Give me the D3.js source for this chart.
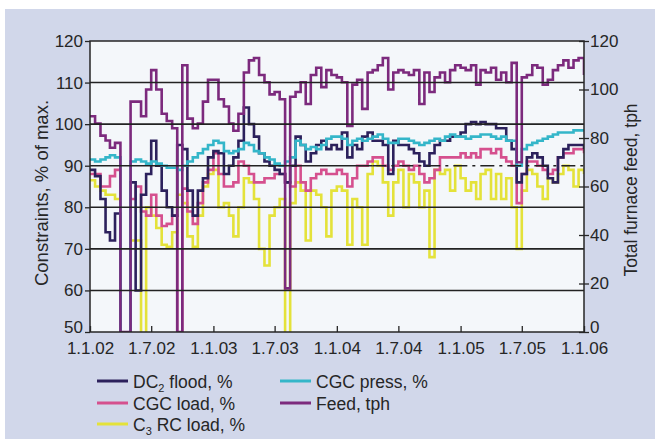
<!DOCTYPE html>
<head>
    <meta charset="utf-8">
    <script src="https://d3js.org/d3.v7.min.js"></script>
    <style>
        html, body { margin: 0; padding: 0; background: #fff; }
        svg { display: block; font-family: "Liberation Sans", Arial, sans-serif; }
        .axis text { font-size: 17px; fill: #262626; }
        .axis line { stroke: #262626; stroke-width: 1.3; }
        .axis path { display: none; }
        .series { fill: none; stroke-width: 2.6; }
    </style>
</head>
<body>
<svg width="655" height="439"></svg>
<script>
    // semi-monthly samples: 1st and 16th of every month, 1.1.02 .. 1.1.06
    var dates = [];
    for (var yr = 2002; yr < 2006; yr++) {
        for (var mo = 0; mo < 12; mo++) {
            dates.push(new Date(yr, mo, 1));
            dates.push(new Date(yr, mo, 16));
        }
    }
    dates.push(new Date(2006, 0, 1));

    // left axis, % of max.
    var dc2Flood = [
        89, 87.5, 82, 74, 72, 78.5, 0, 0, 86, 60, 83, 88, 96, 90, 84, 80, 78, 95, 94, 84, 78, 84, 87, 92, 93.5,
        93, 88, 90, 92, 96, 104, 100, 97, 93, 91, 90, 89, 88, 86, 90, 97, 95, 91, 93, 95, 96, 94, 95, 94,
        98, 92, 95, 94, 97, 98, 96, 96, 95, 88, 96, 95, 95, 94, 93, 91, 90, 93, 95, 96, 96, 97, 97, 98,
        100, 100.5, 100, 100.5, 100, 100, 99, 99, 96, 94, 86, 88, 92, 93, 92, 90, 87, 86, 92, 94, 95, 95, 95, 94
    ];
    var cgcLoad = [
        88, 88, 85, 85, 87.5, 89, 0, 0, 82, 85, 79, 78, 83, 78, 75.5, 76, 78, 0, 84.5, 79, 76, 81, 86, 89, 93,
        88, 85, 85, 86, 91, 90, 88, 86, 86, 87, 87, 88, 88, 86, 85, 90, 86, 84, 87, 88, 89, 88, 88, 89,
        88, 85, 87, 90, 90, 91, 92, 92, 90, 89, 90, 91, 90, 89, 90, 88, 86, 87, 89, 92, 92, 92, 92, 93,
        92, 93, 92, 94, 94, 93, 94, 92, 91, 90, 81, 88, 91, 91, 90, 89, 88, 89, 92, 93, 93, 94, 94, 93
    ];
    var c3RcLoad = [
        86.5, 85, 84, 83, 83, 82, 0, 0, 72, 72, 45, 80, 78, 75, 71, 70.5, 74, 83, 81, 73, 70.5, 78, 85, 88, 89,
        80, 81, 78, 73, 80, 87, 86, 82, 70, 66, 78, 80, 82, 45, 81, 86, 84, 72, 84, 83, 80, 73, 84, 85,
        84, 71, 82, 80, 71, 88, 91, 90, 86, 78, 86, 89, 80, 88, 86, 80, 84, 68, 89, 88, 89, 84, 90, 87,
        84, 86, 82, 88, 89, 82, 88, 82, 87, 80, 70, 84, 89, 88, 85, 82, 87, 86, 88, 90, 89, 85, 89, 88
    ];
    var cgcPress = [
        91.5, 91, 91.5, 92, 92.5, 92, 0, 0, 91, 91.5, 91, 90.5, 91, 90.5, 90, 89.5, 89.5, 89, 90, 91, 92, 93, 94, 95, 96,
        95.5, 93.5, 93, 93.5, 94, 95.5, 95, 93.5, 93, 92, 91.5, 90.5, 90, 91, 92, 96, 95, 94, 94.5, 94, 95, 96.5, 97, 97,
        96.5, 95, 96, 96.5, 96, 96.5, 97, 97.5, 96.5, 95.5, 95.5, 96.5, 96.5, 96, 95.5, 95, 95.5, 96, 96.5, 96, 97, 97.5, 97, 97,
        96.5, 97, 97, 97.5, 97.5, 97, 96.5, 97, 96, 96, 90, 94, 95, 95.5, 96, 96.5, 97, 97.5, 98, 98, 98, 98.5, 98.5, 98.5
    ];
    // right axis, tph
    var feed = [
        89, 86, 81, 79, 76, 78, 0, 0, 95, 95, 89, 100, 108, 100, 90, 87, 84, 0, 110, 88, 84, 86, 95, 104, 104,
        96, 93, 86, 83, 90, 107, 112, 113, 106, 103, 98, 99, 96, 18, 97, 99, 103, 94, 106, 109, 101, 108, 106, 105,
        103, 85, 102, 104, 92, 107, 108, 110, 113, 100, 107, 108, 107, 106, 108, 94, 107, 99, 105, 107, 103, 108, 110, 109,
        108, 110, 102, 108, 107, 109, 104, 107, 103, 111, 70, 105, 106, 110, 109, 102, 104, 108, 110, 112, 109, 112, 113, 106
    ];

    var leftTicks = [50, 60, 70, 80, 90, 100, 110, 120];
    var rightTicks = [0, 20, 40, 60, 80, 100, 120];
    var dateTicks = ["2002-01-01", "2002-07-01", "2003-01-01", "2003-07-01", "2004-01-01",
                     "2004-07-01", "2005-01-01", "2005-07-01", "2006-01-01"];

    var margin = {top: 41, left: 90};
    var width = 494;
    var height = 291;

    var svg = d3.select("svg");

    svg.append("rect")
        .attr("x", 5).attr("y", 9)
        .attr("width", 650).attr("height", 430)
        .attr("fill", "#d1d7ea");

    var g = svg.append("g")
        .attr("transform", "translate(" + margin.left + "," + margin.top + ")");

    var parseDay = d3.timeParse("%Y-%m-%d");

    var x = d3.scaleTime()
        .domain([parseDay("2002-01-01"), parseDay("2006-01-01")])
        .range([0, width]);
    var yLeft = d3.scaleLinear().domain([50, 120]).range([height, 0]);
    var yRight = d3.scaleLinear().domain([0, 120]).range([height, 0]);

    g.append("rect")
        .attr("width", width).attr("height", height)
        .attr("fill", "#f4f7fa");

    g.append("clipPath").attr("id", "plotclip")
        .append("rect").attr("width", width).attr("height", height);

    var series = [
        {id: "c3", values: c3RcLoad, y: yLeft, color: "#e4e23a"},
        {id: "cgcload", values: cgcLoad, y: yLeft, color: "#d5508e"},
        {id: "dc2", values: dc2Flood, y: yLeft, color: "#2c215c"},
        {id: "press", values: cgcPress, y: yLeft, color: "#34b6c9"},
        {id: "feed", values: feed, y: yRight, color: "#7c2a7d"}
    ];

    var lines = g.append("g").attr("clip-path", "url(#plotclip)");

    lines.selectAll(".series")
        .data(series)
        .enter()
        .append("path")
        .attr("class", "series")
        .style("stroke", function(s) { return s.color; })
        .attr("d", function(s) {
            return d3.line()
                .x(function(d, i) { return x(dates[i]); })
                .y(function(d) { return s.y(d); })
                .curve(d3.curveStepAfter)(s.values);
        });

    // gridlines sit over the traces
    var grid = g.append("g");
    grid.selectAll(".grid")
        .data(leftTicks.slice(1, -1).filter(function(v) { return v !== 90; }))
        .enter()
        .append("line")
        .attr("x1", 0).attr("x2", width)
        .attr("y1", function(d) { return yLeft(d); })
        .attr("y2", function(d) { return yLeft(d); })
        .attr("stroke", "#222").attr("stroke-width", 1.6);

    var split = x(parseDay("2004-04-15"));
    grid.append("line")
        .attr("x1", 0).attr("x2", split)
        .attr("y1", yLeft(90)).attr("y2", yLeft(90))
        .attr("stroke", "#222").attr("stroke-width", 1.6);
    grid.append("line")
        .attr("x1", split).attr("x2", width)
        .attr("y1", yLeft(90)).attr("y2", yLeft(90))
        .attr("stroke", "#222").attr("stroke-width", 1.6)
        .attr("stroke-dasharray", "14,5,3,5");

    g.append("rect")
        .attr("width", width).attr("height", height)
        .attr("fill", "none")
        .attr("stroke", "#262626").attr("stroke-width", 1.5);

    g.append("g")
        .attr("class", "axis")
        .attr("transform", "translate(0," + height + ")")
        .call(d3.axisBottom(x)
            .tickValues(dateTicks.map(parseDay))
            .tickSize(-6)
            .tickPadding(10)
            .tickFormat(d3.timeFormat("%-d.%-m.%y")));

    var left = g.append("g")
        .attr("class", "axis")
        .call(d3.axisLeft(yLeft).tickValues(leftTicks).tickSize(5).tickPadding(2));
    // lowest label sits on the axis line, clear of the dates
    left.selectAll(".tick text").filter(function(d) { return d === 50; }).attr("y", -5);

    var right = g.append("g")
        .attr("class", "axis")
        .attr("transform", "translate(" + width + ",0)")
        .call(d3.axisRight(yRight).tickValues(rightTicks).tickSize(5).tickPadding(1));
    right.selectAll(".tick line").attr("x1", -5);
    right.selectAll(".tick text").filter(function(d) { return d === 0; }).attr("y", -5);

    svg.append("text")
        .attr("transform", "translate(48,193) rotate(-90)")
        .attr("text-anchor", "middle")
        .style("font-size", "18.5px")
        .attr("fill", "#262626")
        .text("Constraints, % of max.");

    svg.append("text")
        .attr("transform", "translate(637,190) rotate(-90)")
        .attr("text-anchor", "middle")
        .style("font-size", "17.5px")
        .attr("fill", "#262626")
        .text("Total furnace feed, tph");

    // legend
    var legendItems = [
        {text: ["DC", "2", " flood, %"], color: "#2c215c", x: 97, y: 381},
        {text: ["CGC load, %"], color: "#d5508e", x: 97, y: 403},
        {text: ["C", "3", " RC load, %"], color: "#e4e23a", x: 97, y: 424},
        {text: ["CGC press, %"], color: "#34b6c9", x: 280, y: 381},
        {text: ["Feed, tph"], color: "#7c2a7d", x: 280, y: 403}
    ];

    var legend = svg.selectAll(".legend")
        .data(legendItems)
        .enter()
        .append("g")
        .attr("transform", function(d) { return "translate(" + d.x + "," + d.y + ")"; });

    legend.append("line")
        .attr("x1", 0).attr("x2", 31)
        .attr("stroke", function(d) { return d.color; })
        .attr("stroke-width", 3);

    var label = legend.append("text")
        .attr("x", 36)
        .attr("y", 7)
        .style("font-size", "17.5px")
        .attr("fill", "#262626");

    label.each(function(d) {
        var t = d3.select(this);
        t.append("tspan").text(d.text[0]);
        if (d.text.length > 1) {
            t.append("tspan").attr("dy", 4).style("font-size", "11px").text(d.text[1]);
            t.append("tspan").attr("dy", -4).text(d.text[2]);
        }
    });
</script>
</body>
